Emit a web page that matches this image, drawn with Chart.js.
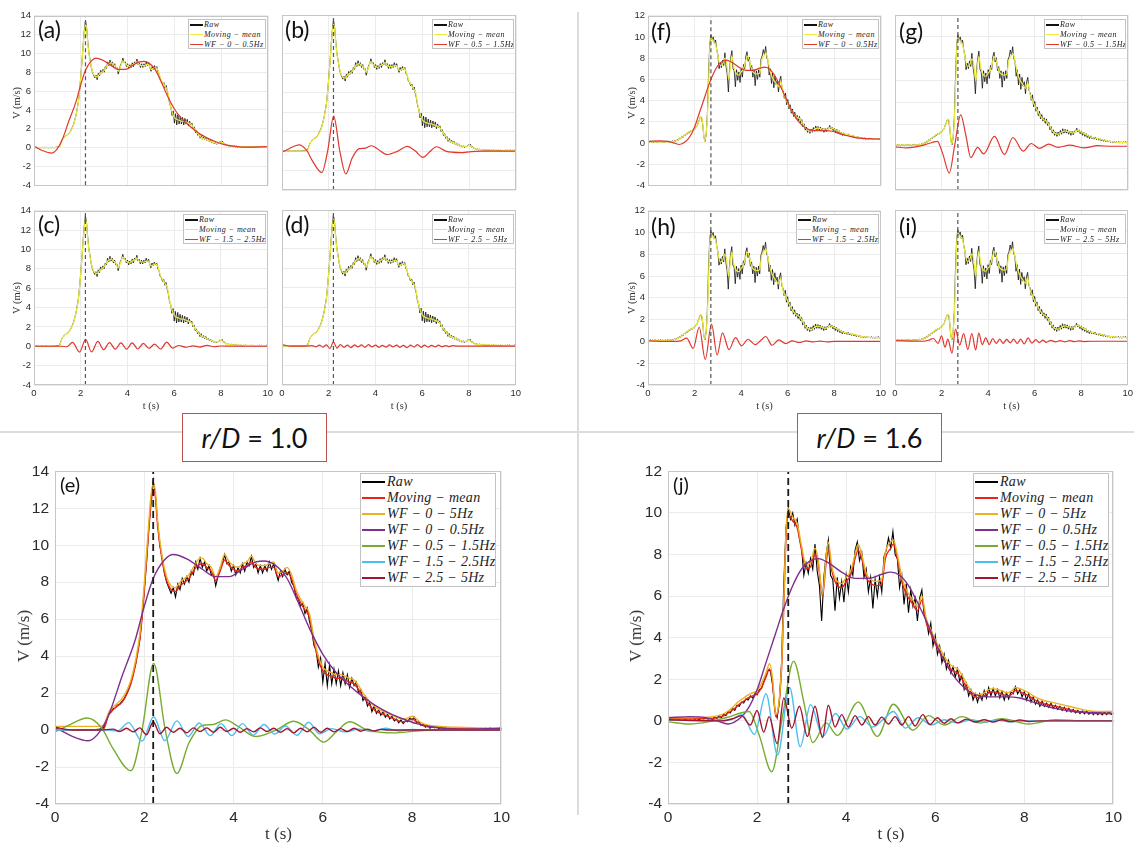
<!DOCTYPE html>
<html>
<head>
<meta charset="utf-8">
<script src="https://cdn.jsdelivr.net/npm/chart.js@4.4.1/dist/chart.umd.min.js"></script>
<style>
  html, body { margin: 0; padding: 0; background: #fff; }
  #page { position: relative; width: 1134px; height: 844px; overflow: hidden; background: #fff; }
  .cv { position: absolute; }
  .plabel { position: absolute; font-family: Lato, "Open Sans", sans-serif; color: #111; line-height: 1; white-space: nowrap; }
  .ytitle { position: absolute; font-family: "Liberation Serif", serif; color: #333; white-space: nowrap; transform: translate(-50%, -50%) rotate(-90deg); }
  .xtitle { position: absolute; font-family: "Liberation Serif", serif; color: #333; white-space: nowrap; transform: translate(-50%, -50%); }
  .legend { position: absolute; background: #fff; border: 1px solid #c2c2c2; box-sizing: border-box; font-family: "Liberation Serif", serif; font-style: italic; color: #222; overflow: hidden; }
  .legend .row { position: absolute; left: 1px; display: flex; align-items: center; white-space: nowrap; }
  .legend .ln { display: inline-block; }
  .divh { position: absolute; left: 0; top: 431px; width: 1134px; height: 1.5px; background: #dcdcdc; }
  .divv { position: absolute; left: 577px; top: 12px; width: 1.5px; height: 803px; background: #dcdcdc; }
  .rd { position: absolute; border: 1.5px solid #c0504d; background: #fff; font-family: Lato, sans-serif; font-size: 27px; color: #111;
        display: flex; align-items: center; justify-content: center; box-sizing: border-box; white-space: pre; }
</style>
</head>
<body>
<div id="page">
  <div class="divh"></div>
  <div class="divv"></div>
</div>
<script>
// ---- data: r/D = 1.0 (left) ----
const tPeakL = 2.2;
const tPeakR = 2.7;
const rawDt = 0.05;

// raw velocity, one row per second (0.05 s steps)
const rawL = [
  0.02, -0.01, 0.03, 0.0, 0.02, -0.02, 0.01, 0.03, -0.01, 0.02, 0.0, 0.03, -0.02, 0.01, 0.02, -0.01, 0.03, 0.0, 0.02, 0.04,
  0.05, 0.08, 0.15, 0.5, 0.85, 0.95, 1.15, 1.2, 1.35, 1.4, 1.55, 1.7, 1.95, 2.2, 2.55, 3.0, 3.5, 4.2, 4.9, 6.1,
  7.6, 9.1, 10.9, 12.4, 13.5, 12.7, 11.2, 10.0, 9.3, 8.5, 8.0, 7.7, 7.4, 7.7, 7.2, 7.9, 7.6, 8.2, 7.9, 8.3,
  8.0, 8.6, 8.4, 9.1, 8.7, 9.3, 8.8, 9.1, 8.6, 8.9, 8.4, 8.5, 7.8, 8.3, 8.8, 9.0, 9.5, 9.0, 9.1, 8.6,
  8.9, 8.4, 8.8, 8.5, 9.0, 8.6, 9.1, 8.9, 9.4, 8.8, 9.0, 8.5, 8.9, 8.5, 8.9, 8.6, 9.1, 8.7, 9.0, 8.5,
  8.1, 8.6, 8.3, 8.7, 8.4, 8.6, 8.0, 7.8, 7.2, 7.1, 6.7, 6.9, 6.3, 6.6, 5.9, 5.4, 4.6, 4.3, 3.4, 3.9,
  2.6, 3.6, 2.4, 3.5, 2.5, 3.3, 2.5, 3.2, 2.4, 3.1, 2.5, 3.0, 2.3, 2.8, 2.4, 2.6, 2.0, 2.2, 1.6, 1.8,
  1.3, 1.5, 1.0, 1.3, 0.9, 1.1, 0.8, 1.0, 0.7, 0.85, 0.6, 0.75, 0.5, 0.6, 0.4, 0.55, 0.35, 0.5, 0.45, 0.65,
  0.55, 0.7, 0.4, 0.45, 0.25, 0.3, 0.15, 0.25, 0.1, 0.2, 0.12, 0.2, 0.08, 0.15, 0.05, 0.14, 0.06, 0.12, 0.04, 0.1,
  0.05, 0.12, 0.03, 0.1, 0.05, 0.09, 0.02, 0.1, 0.04, 0.08, 0.02, 0.09, 0.03, 0.1, 0.04, 0.12, 0.03, 0.08, 0.02, 0.1,
  0.05
];

const tMmL = [0, 0.5, 1.0, 1.1, 1.2, 1.3, 1.4, 1.5, 1.6, 1.7,
  1.8, 1.9, 2.0, 2.1, 2.15, 2.2, 2.25, 2.3, 2.4, 2.5,
  2.6, 2.7, 2.8, 2.9, 3.0, 3.1, 3.2, 3.3, 3.4, 3.5,
  3.6, 3.7, 3.8, 3.9, 4.0, 4.1, 4.2, 4.3, 4.4, 4.5,
  4.6, 4.7, 4.8, 4.9, 5.0, 5.1, 5.2, 5.3, 5.4, 5.5,
  5.6, 5.7, 5.8, 5.9, 6.0, 6.1, 6.2, 6.3, 6.4, 6.5,
  6.6, 6.7, 6.8, 6.9, 7.0, 7.1, 7.2, 7.3, 7.4, 7.5,
  7.6, 7.7, 7.8, 7.9, 8.0, 8.1, 8.2, 8.3, 8.5, 8.7,
  9.0, 9.5, 10];
const mmL = [0.0, 0.0, 0.0, 0.1, 0.8, 1.1, 1.3, 1.5, 1.9, 2.5,
  3.5, 4.9, 7.5, 10.8, 12.2, 13.0, 12.6, 11.0, 9.2, 8.1,
  7.6, 7.5, 7.8, 8.0, 8.2, 8.6, 8.9, 9.0, 8.8, 8.6,
  8.1, 8.6, 9.2, 8.9, 8.7, 8.6, 8.8, 8.9, 9.1, 8.8,
  8.7, 8.7, 8.8, 8.8, 8.3, 8.4, 8.5, 8.2, 7.4, 6.9,
  6.5, 6.1, 4.8, 3.8, 3.2, 3.0, 2.9, 2.8, 2.8, 2.7,
  2.6, 2.5, 2.2, 1.8, 1.5, 1.2, 1.0, 0.9, 0.8, 0.7,
  0.6, 0.5, 0.45, 0.5, 0.6, 0.45, 0.3, 0.2, 0.15, 0.12,
  0.1, 0.08, 0.05];
const wf05L = [0.2, 0.2, 0.2, 0.3, 0.95, 1.25, 1.45, 1.7, 2.1, 2.7,
  3.7, 5.2, 7.9, 11.2, 12.7, 13.3, 12.9, 11.3, 9.4, 8.3,
  7.8, 7.7, 8.0, 8.2, 8.4, 8.8, 9.2, 9.3, 9.0, 8.8,
  8.3, 8.8, 9.5, 9.1, 8.9, 8.8, 9.0, 9.1, 9.4, 9.0,
  8.9, 8.9, 9.0, 9.1, 8.5, 8.6, 8.8, 8.4, 7.6, 7.1,
  6.7, 6.3, 5.0, 4.0, 3.4, 3.2, 3.1, 3.0, 3.0, 2.9,
  2.8, 2.7, 2.4, 2.0, 1.7, 1.4, 1.2, 1.05, 0.95, 0.85,
  0.75, 0.65, 0.6, 0.65, 0.75, 0.6, 0.4, 0.3, 0.22, 0.18,
  0.15, 0.12, 0.1];

const tLowL = [0, 0.35, 0.75, 1.0, 1.2, 1.5, 1.8, 2.0, 2.2, 2.45, 2.65, 3.0, 3.3, 3.6, 3.9, 4.2, 4.5,
  4.7, 5.0, 5.2, 5.45, 5.7, 6.0, 6.3, 6.6, 6.9, 7.2, 7.5, 7.8, 8.1, 8.5, 9.0, 10];
const lowL = [0.15, -0.3, -0.58, -0.1, 0.8, 2.9, 4.9, 6.7, 8.2, 9.2, 9.5, 9.2, 8.7, 8.3, 8.3, 8.7, 9.1,
  9.15, 8.8, 8.2, 6.9, 5.5, 4.1, 3.1, 2.4, 1.8, 1.3, 0.9, 0.6, 0.35, 0.15, 0.05, 0.1];

const tMidL = [0, 0.3, 0.72, 1.05, 1.3, 1.7, 1.95, 2.21, 2.47, 2.73, 3.0, 3.3, 3.55, 3.82, 4.1, 4.5,
  4.95, 5.35, 5.7, 6.02, 6.3, 6.6, 7.0, 7.6, 8.1, 8.6, 10];
const midL = [-0.1, 0.25, 0.65, 0.1, -1.0, -2.2, 0.0, 3.6, 0.0, -2.35, -0.7, 0.25, 0.3, 0.55, 0.2, -0.35,
  0.0, 0.48, 0.0, -0.65, -0.1, 0.45, 0.0, -0.15, -0.05, 0.0, 0.0];

const tHiL = [0, 1.2, 1.4, 1.65, 1.95, 2.21, 2.46, 2.73, 2.98, 3.23, 3.48, 3.72, 3.96, 4.2, 4.44,
  4.68, 4.92, 5.16, 5.42, 5.68, 5.93, 6.2, 6.5, 6.8, 7.1, 7.4, 7.7, 8.0, 8.5, 10];
const hiL = [0, 0.0, -0.05, 0.4, -0.6, 0.72, -0.58, 0.5, -0.35, 0.38, -0.3, 0.35, -0.3, 0.35, -0.28,
  0.3, -0.22, 0.22, -0.28, 0.42, -0.2, 0.08, -0.1, 0.05, -0.08, 0.1, -0.05, 0.03, 0, 0];

const tVhL = [0, 0.4, 1.0, 1.3, 1.45, 1.6, 1.75, 1.9, 2.05, 2.2, 2.35, 2.5, 2.65, 2.8, 2.95, 3.1,
  3.25, 3.4, 3.55, 3.7, 3.85, 4.0, 4.15, 4.3, 4.45, 4.6, 4.75, 4.9, 5.05, 5.2, 5.35, 5.5, 5.65,
  5.8, 5.95, 6.1, 6.25, 6.4, 6.55, 6.7, 6.85, 7.0, 7.15, 7.3, 7.5, 8.0, 10];
const vhL = [0.15, 0.0, 0.0, 0.05, -0.08, 0.1, -0.1, 0.12, -0.25, 0.45, -0.2, 0.15, -0.12, 0.1, -0.15, 0.12,
  -0.08, 0.12, -0.12, 0.15, -0.08, 0.1, -0.12, 0.08, -0.1, 0.12, -0.08, 0.1, -0.12, 0.08, -0.15, 0.1, -0.1,
  0.15, -0.12, 0.1, -0.1, 0.08, -0.08, 0.1, -0.06, 0.05, -0.05, 0.04, 0, 0, 0];

// ---- data: r/D = 1.6 (right) ----
const rawR = [
  0.1, 0.05, 0.15, 0.08, 0.12, 0.05, 0.14, 0.1, 0.06, 0.13, 0.08, 0.15, 0.07, 0.12, 0.05, 0.14, 0.09, 0.16, 0.08, 0.13,
  0.1, 0.18, 0.12, 0.25, 0.15, 0.32, 0.25, 0.45, 0.38, 0.6, 0.5, 0.75, 0.7, 0.9, 0.85, 1.05, 1.0, 1.2, 1.1, 1.3,
  1.25, 1.5, 1.55, 1.9, 2.15, 2.45, 2.4, 1.7, 0.5, 0.15, 0.9, 2.8, 6.6, 9.3, 10.2, 9.7, 10.0, 9.4, 9.7, 8.8,
  8.3, 7.0, 7.6, 7.1, 7.8, 7.3, 8.5, 7.2, 6.5, 4.8, 6.9, 8.0, 8.7, 7.0, 6.8, 5.3, 6.9, 5.9, 6.7, 5.7,
  7.0, 6.2, 7.4, 7.0, 8.2, 8.6, 7.7, 8.1, 6.9, 7.3, 6.2, 6.9, 5.4, 6.8, 6.0, 6.9, 6.2, 7.9, 8.2, 8.8,
  8.3, 9.1, 8.0, 7.8, 6.4, 7.0, 5.6, 6.6, 5.2, 6.3, 5.5, 5.9, 4.8, 5.9, 6.3, 5.1, 4.9, 4.2, 4.7, 3.6,
  4.1, 3.2, 3.6, 2.8, 3.2, 2.5, 2.9, 2.3, 2.6, 2.1, 2.5, 1.9, 2.2, 1.5, 1.8, 1.2, 1.5, 1.0, 1.3, 0.9,
  1.3, 1.0, 1.45, 1.1, 1.6, 1.2, 1.55, 1.2, 1.5, 1.1, 1.4, 1.0, 1.35, 1.05, 1.4, 1.3, 1.65, 1.3, 1.5, 1.15,
  1.4, 1.0, 1.3, 0.9, 1.15, 0.8, 1.0, 0.7, 0.95, 0.7, 0.85, 0.65, 0.85, 0.6, 0.75, 0.55, 0.7, 0.5, 0.65, 0.45,
  0.6, 0.42, 0.55, 0.38, 0.5, 0.35, 0.48, 0.33, 0.45, 0.32, 0.42, 0.3, 0.44, 0.3, 0.4, 0.28, 0.42, 0.3, 0.45, 0.3,
  0.38
];

const tMmR = [0, 0.5, 1.0, 1.2, 1.3, 1.4, 1.5, 1.6, 1.7, 1.8,
  1.9, 2.0, 2.1, 2.2, 2.28, 2.35, 2.42, 2.48, 2.55, 2.6,
  2.65, 2.7, 2.8, 2.9, 3.0, 3.1, 3.2, 3.3, 3.37, 3.47,
  3.55, 3.6, 3.68, 3.8, 3.9, 4.0, 4.1, 4.2, 4.27, 4.35,
  4.45, 4.55, 4.7, 4.8, 4.88, 5.0, 5.06, 5.15, 5.25, 5.35,
  5.5, 5.6, 5.7, 5.8, 5.9, 6.0, 6.1, 6.2, 6.3, 6.4,
  6.5, 6.6, 6.7, 6.8, 6.9, 7.0, 7.1, 7.2, 7.3, 7.4,
  7.5, 7.6, 7.7, 7.8, 7.9, 8.0, 8.1, 8.2, 8.4, 8.6,
  8.8, 9.0, 9.2, 9.4, 9.6, 9.8, 10];
const mmR = [0.1, 0.1, 0.12, 0.2, 0.3, 0.45, 0.6, 0.8, 0.95, 1.1,
  1.2, 1.3, 1.6, 2.1, 2.5, 1.8, 0.2, 0.6, 2.5, 5.5,
  8.8, 9.9, 9.6, 9.3, 8.2, 7.3, 7.4, 8.0, 7.6, 6.0,
  7.6, 8.2, 7.2, 6.5, 6.4, 6.7, 7.0, 7.8, 8.2, 7.8,
  6.9, 6.6, 6.5, 6.6, 7.8, 8.3, 8.5, 7.8, 6.7, 6.1,
  5.6, 5.3, 5.8, 4.7, 4.2, 3.7, 3.3, 2.9, 2.6, 2.4,
  2.3, 2.0, 1.6, 1.3, 1.15, 1.1, 1.2, 1.35, 1.4, 1.35,
  1.3, 1.2, 1.25, 1.45, 1.4, 1.3, 1.2, 1.05, 0.85, 0.75,
  0.65, 0.55, 0.45, 0.4, 0.35, 0.35, 0.35];
const wf05R = [0.15, 0.15, 0.2, 0.3, 0.4, 0.55, 0.75, 0.95, 1.1, 1.25,
  1.35, 1.45, 1.8, 2.3, 2.75, 2.0, 0.3, 0.7, 2.7, 5.8,
  9.1, 10.2, 9.8, 9.5, 8.4, 7.5, 7.6, 8.3, 7.8, 6.1,
  7.9, 8.6, 7.4, 6.7, 6.6, 6.9, 7.2, 8.0, 8.5, 8.0,
  7.1, 6.8, 6.7, 6.8, 8.1, 8.6, 8.7, 8.0, 6.9, 6.3,
  5.8, 5.5, 6.0, 4.9, 4.4, 3.9, 3.5, 3.1, 2.8, 2.6,
  2.5, 2.2, 1.8, 1.45, 1.3, 1.25, 1.35, 1.5, 1.55, 1.5,
  1.45, 1.35, 1.4, 1.6, 1.55, 1.45, 1.35, 1.2, 1.0, 0.9,
  0.8, 0.7, 0.6, 0.5, 0.45, 0.45, 0.45];

const tLowR = [0, 0.5, 0.85, 1.1, 1.35, 1.6, 1.8, 2.0, 2.2, 2.4, 2.6, 2.8, 3.0, 3.2, 3.37, 3.6, 3.9, 4.2,
  4.5, 4.8, 5.0, 5.2, 5.4, 5.6, 5.8, 6.0, 6.2, 6.4, 6.6, 6.8, 7.0, 7.3, 7.6, 7.9, 8.2, 8.5, 8.8, 9.1, 9.5, 10];
const lowR = [0.15, 0.2, 0.15, 0.0, -0.15, 0.1, 0.6, 1.5, 2.8, 4.1, 5.4, 6.5, 7.3, 7.7, 7.8, 7.6, 7.15, 6.85,
  6.85, 7.05, 7.15, 7.0, 6.5, 5.7, 4.8, 3.8, 2.9, 2.2, 1.7, 1.35, 1.2, 1.15, 1.15, 1.1, 0.9, 0.7, 0.55, 0.45, 0.4, 0.35];

const tMidR = [0, 0.5, 0.9, 1.3, 1.82, 2.05, 2.33, 2.57, 2.82, 3.05, 3.25, 3.55, 3.8, 4.27, 4.7, 5.06,
  5.5, 5.85, 6.2, 6.6, 7.0, 7.5, 8.1, 8.7, 9.3, 10];
const midR = [-0.05, -0.15, -0.05, 0.15, 0.45, -0.7, -2.45, 0.2, 2.87, 0.9, -1.05, -0.1, -0.7, 0.9, -0.75, 0.8,
  -0.45, 0.25, -0.2, 0.2, -0.1, 0.1, -0.15, 0.05, 0.0, 0.0];

const tHiR = [0, 1.0, 1.4, 1.66, 1.94, 2.2, 2.46, 2.73, 2.97, 3.2, 3.48, 3.76, 4.02, 4.3, 4.6, 4.85, 5.06,
  5.33, 5.62, 5.92, 6.2, 6.5, 6.8, 7.1, 7.4, 7.7, 8.0, 8.5, 10];
const hiR = [0.05, 0.0, 0.05, 0.3, -0.65, 1.3, -1.65, 1.6, -1.25, 0.78, -0.75, 0.35, -0.4, 0.2, -0.3, 0.1, 0.45,
  -0.35, 0.15, -0.2, 0.05, -0.1, 0.05, -0.05, 0.03, -0.05, 0, 0, 0];

const tVhR = [0, 1.2, 1.45, 1.65, 1.85, 2.0, 2.15, 2.27, 2.45, 2.6, 2.78, 2.95, 3.13, 3.3, 3.47, 3.6, 3.75,
  3.9, 4.05, 4.2, 4.35, 4.5, 4.65, 4.8, 4.95, 5.1, 5.25, 5.4, 5.55, 5.72, 5.88, 6.05, 6.2, 6.35, 6.5, 6.7,
  6.9, 7.1, 7.3, 7.5, 7.7, 7.9, 8.1, 8.4, 10];
const vhR = [0.05, 0.0, 0.1, 0.25, -0.2, 0.5, -0.55, 0.2, -1.1, 1.1, -0.35, 0.7, -0.75, 0.7, -0.8, 0.75, -0.3,
  0.3, -0.3, 0.25, -0.2, 0.2, -0.2, 0.18, -0.15, 0.2, -0.2, 0.2, -0.25, 0.3, -0.18, 0.15, -0.12, 0.1, -0.1, 0.08,
  -0.06, 0.05, -0.06, 0.05, -0.04, 0.04, -0.03, 0, 0];

const yRangeL = { min: -4, max: 14 };
const yRangeR = { min: -4, max: 12 };
const tickStep = 2;

// ---- helpers ----
function pts(ts, vs, name) {
  if (ts.length !== vs.length) throw new Error('length mismatch in ' + name + ': ' + ts.length + ' vs ' + vs.length);
  return ts.map((t, i) => ({ x: t, y: vs[i] }));
}
const rawTime = rawL.map((_, i) => Math.round(i * rawDt * 100) / 100);

const page = document.getElementById('page');
function addDiv(cls, style, html) {
  const d = document.createElement('div');
  d.className = cls;
  Object.assign(d.style, style);
  if (html != null) d.innerHTML = html;
  page.appendChild(d);
  return d;
}

// box round the plot area, like the matlab axes
Chart.register({
  id: 'frame',
  afterDatasetsDraw(chart) {
    const a = chart.chartArea, ctx = chart.ctx;
    ctx.save();
    ctx.strokeStyle = '#c6c6c6';
    ctx.lineWidth = 1;
    ctx.strokeRect(Math.round(a.left) + 0.5, Math.round(a.top) + 0.5, Math.round(a.width) - 1, Math.round(a.height) - 1);
    ctx.restore();
  }
});

function panel(p) {
  const big = !!p.big;
  const mL = big ? 52 : (p.showY ? 30 : 8);
  const mT = big ? 11 : 8;
  const mR = big ? 12 : 8;
  const mB = big ? 26 : (p.showX ? 16 : 4);
  const W = p.box.r - p.box.l + mL + mR;
  const H = p.box.b - p.box.t + mT + mB;
  const wrap = addDiv('cv', { left: (p.box.l - mL) + 'px', top: (p.box.t - mT) + 'px', width: W + 'px', height: H + 'px' });
  const cv = document.createElement('canvas');
  cv.width = W; cv.height = H;
  cv.style.width = W + 'px'; cv.style.height = H + 'px';
  wrap.appendChild(cv);

  const n = p.series.length;
  const datasets = p.series.map((s, i) => ({
    data: s.data,
    borderColor: s.color,
    borderWidth: s.width,
    pointRadius: 0,
    fill: false,
    tension: 0,
    cubicInterpolationMode: s.smooth ? 'monotone' : 'default',
    order: n - i + 1
  }));
  datasets.push({
    data: [{ x: p.peak, y: p.y.min }, { x: p.peak, y: p.y.max }],
    borderColor: big ? '#1a1a1a' : '#555',
    borderWidth: big ? 1.8 : 1.2,
    borderDash: big ? [7, 4] : [4, 3],
    pointRadius: 0,
    order: 0
  });

  const tickFont = { family: '"Liberation Sans", Arial, sans-serif', size: big ? 15.5 : 9.5 };
  new Chart(cv, {
    type: 'line',
    data: { datasets },
    options: {
      responsive: false,
      animation: false,
      devicePixelRatio: 1,
      events: [],
      layout: { padding: { left: 0, top: mT, right: mR, bottom: 0 } },
      plugins: { legend: { display: false }, tooltip: { enabled: false } },
      scales: {
        x: {
          type: 'linear', min: 0, max: 10,
          ticks: { display: !!p.showX, stepSize: tickStep, autoSkip: false, maxRotation: 0, font: tickFont, color: '#2b2b2b', padding: big ? 4 : 3 },
          grid: { color: '#ebebeb', drawTicks: false },
          border: { display: false },
          afterFit: s => { s.height = mB; }
        },
        y: {
          type: 'linear', min: p.y.min, max: p.y.max,
          ticks: { display: !!p.showY, stepSize: tickStep, autoSkip: false, font: tickFont, color: '#2b2b2b', padding: big ? 6 : 3 },
          grid: { color: '#ebebeb', drawTicks: false },
          border: { display: false },
          afterFit: s => { s.width = mL; }
        }
      }
    }
  });

  // panel letter
  addDiv('plabel', { left: p.lab.x + 'px', top: p.lab.y + 'px', fontSize: (big ? 20 : 23) + 'px' }, p.lab.text);
  // axis titles
  if (p.showY) {
    addDiv('ytitle', { left: p.yTitleX + 'px', top: ((p.box.t + p.box.b) / 2) + 'px', fontSize: (big ? 17 : 10.5) + 'px' }, 'V (m/s)');
  }
  if (p.showX) {
    addDiv('xtitle', { left: ((p.box.l + p.box.r) / 2) + 'px', top: (big ? 834 : 405) + 'px', fontSize: (big ? 17 : 10.5) + 'px' }, 't (s)');
  }
  // legend inside the axes
  const lg = p.legend;
  const box = addDiv('legend', { left: lg.l + 'px', top: lg.t + 'px', width: lg.w + 'px', height: lg.h + 'px',
    fontSize: lg.font + 'px', letterSpacing: lg.ls + 'px' });
  lg.entries.forEach((e, i) => {
    const row = document.createElement('div');
    row.className = 'row';
    row.style.top = (lg.first + i * lg.rowH - lg.rowH / 2) + 'px';
    row.style.height = lg.rowH + 'px';
    row.innerHTML = '<span class="ln" style="width:' + lg.lineW + 'px;height:' + (big ? 2 : 1.5) + 'px;background:' + e.color +
      ';margin-right:' + (big ? 2 : 1) + 'px"></span><span>' + e.text + '</span>';
    box.appendChild(row);
  });
}

// ---- series ----
const L = {
  raw: pts(rawTime, rawL, 'rawL'), mm: pts(tMmL, mmL, 'mmL'), wf05: pts(tMmL, wf05L, 'wf05L'),
  low: pts(tLowL, lowL, 'lowL'), mid: pts(tMidL, midL, 'midL'), hi: pts(tHiL, hiL, 'hiL'), vh: pts(tVhL, vhL, 'vhL')
};
const R = {
  raw: pts(rawR.map((_, i) => Math.round(i * rawDt * 100) / 100), rawR, 'rawR'), mm: pts(tMmR, mmR, 'mmR'), wf05: pts(tMmR, wf05R, 'wf05R'),
  low: pts(tLowR, lowR, 'lowR'), mid: pts(tMidR, midR, 'midR'), hi: pts(tHiR, hiR, 'hiR'), vh: pts(tVhR, vhR, 'vhR')
};

const cRawS = '#111', cMmS = '#ecec3c', cWfS = '#e0372e';
const bandText = {
  low: 'WF − 0 − 0.5Hz', mid: 'WF − 0.5 − 1.5Hz', hi: 'WF − 1.5 − 2.5Hz', vh: 'WF − 2.5 − 5Hz', wf05: 'WF − 0 − 5Hz'
};

function smallPanel(S, key, box, letter, showX, showY, yr, peak, legW, yTitleX, lab) {
  panel({
    box, y: yr, peak, showX, showY, yTitleX,
    lab: { x: lab[0], y: lab[1], text: '(' + letter + ')' },
    series: [
      { data: S.raw, color: cRawS, width: 0.8 },
      { data: S.mm, color: cMmS, width: 1.2, smooth: true },
      { data: S[key], color: cWfS, width: 1.2, smooth: true }
    ],
    legend: {
      l: box.r - 2 - legW, t: box.t + 4, w: legW, h: 30, font: 8, ls: 0.45, rowH: 9.7, first: 5, lineW: 13,
      entries: [
        { text: 'Raw', color: cRawS }, { text: 'Moving − mean', color: cMmS }, { text: bandText[key], color: cWfS }
      ]
    }
  });
}

smallPanel(L, 'low', { l: 34, t: 15, r: 268, b: 190 }, 'a', false, true, yRangeL, tPeakL, 78, 16, [38, 18]);
smallPanel(L, 'mid', { l: 282, t: 15, r: 516, b: 190 }, 'b', false, false, yRangeL, tPeakL, 82, 0, [285, 18]);
smallPanel(L, 'hi', { l: 34, t: 210, r: 268, b: 385 }, 'c', true, true, yRangeL, tPeakL, 83, 16, [38, 213]);
smallPanel(L, 'vh', { l: 282, t: 210, r: 516, b: 385 }, 'd', true, false, yRangeL, tPeakL, 82, 0, [285, 213]);
smallPanel(R, 'low', { l: 648, t: 15, r: 881, b: 190 }, 'f', false, true, yRangeR, tPeakR, 77, 631, [651, 20]);
smallPanel(R, 'mid', { l: 895, t: 15, r: 1128, b: 190 }, 'g', false, false, yRangeR, tPeakR, 82, 0, [899, 20]);
smallPanel(R, 'hi', { l: 648, t: 210, r: 881, b: 385 }, 'h', true, true, yRangeR, tPeakR, 83, 631, [651, 215]);
smallPanel(R, 'vh', { l: 895, t: 210, r: 1128, b: 385 }, 'i', true, false, yRangeR, tPeakR, 82, 0, [899, 215]);

const bigColors = { raw: '#000000', mm: '#e8231d', wf05: '#edb120', low: '#7e2f8e', mid: '#77ac30', hi: '#4dbeee', vh: '#a2142f' };
function bigPanel(S, box, letter, yr, peak, legL, yTitleX, lab) {
  const keys = ['raw', 'mm', 'wf05', 'low', 'mid', 'hi', 'vh'];
  const names = { raw: 'Raw', mm: 'Moving − mean', wf05: bandText.wf05, low: bandText.low, mid: bandText.mid, hi: bandText.hi, vh: bandText.vh };
  panel({
    big: true, box, y: yr, peak, showX: true, showY: true, yTitleX,
    lab: { x: lab[0], y: lab[1], text: '(' + letter + ')' },
    series: keys.map(k => ({ data: S[k], color: bigColors[k], width: k === 'raw' ? 1.1 : 1.4, smooth: k !== 'raw' })),
    legend: {
      l: legL, t: 473, w: 136, h: 114, font: 14, ls: 0.3, rowH: 16.1, first: 7.5, lineW: 23,
      entries: keys.map(k => ({ text: names[k], color: bigColors[k] }))
    }
  });
}
bigPanel(L, { l: 55, t: 467, r: 502, b: 804 }, 'e', yRangeL, tPeakL, 360, 24, [60, 474]);
bigPanel(R, { l: 668, t: 467, r: 1114, b: 804 }, 'j', yRangeR, tPeakR, 973, 636, [673, 474]);

// r/D captions
addDiv('rd', { left: '182px', top: '413px', width: '145px', height: '49px' }, '<i>r/D</i> = 1.0');
addDiv('rd', { left: '797px', top: '413px', width: '145px', height: '49px' }, '<i>r/D</i> = 1.6');
</script>
</body>
</html>
